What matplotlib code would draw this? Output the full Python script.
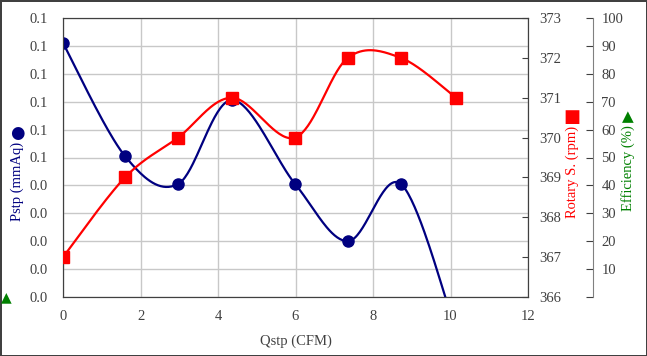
import numpy as np
import matplotlib.pyplot as plt

plt.rcParams['font.family'] = ['Liberation Serif', 'DejaVu Sans']
plt.rcParams['font.size'] = 10.5

# data
qstp = [0, 1.6, 2.97, 4.36, 5.99, 7.35, 8.72, 10.14]
pstp = [0.091, 0.0505, 0.0405, 0.0706, 0.0405, 0.020, 0.0405, -0.012]
rpm = [367.0, 369.0, 370.0, 371.0, 370.0, 372.0, 372.0, 371.0]

x_ticks = [0, 2, 4, 6, 8, 10, 12]
pstp_ticks = np.linspace(0, 0.1, 11)
pstp_ticklabels = ['0.0'] * 5 + ['0.1'] * 6
rpm_ticks = [366, 367, 368, 369, 370, 371, 372, 373]
eff_ticks = [0, 10, 20, 30, 40, 50, 60, 70, 80, 90, 100]
eff_ticklabels = [''] + [str(v) for v in eff_ticks[1:]]

BLUE = '#000080'
RED = '#FF0000'
GREEN = '#008000'
GREY = '#404040'


def smooth(x, y, n=40):
    # Catmull-Rom curve like Excel's smoothed line
    p = np.column_stack([x, y]).astype(float)
    p = np.vstack([p[0], p, p[-1]])
    out = []
    t = np.linspace(0, 1, n)[:, None]
    for i in range(1, len(p) - 2):
        p0, p1, p2, p3 = p[i - 1], p[i], p[i + 1], p[i + 2]
        seg = 0.5 * (2 * p1 + (-p0 + p2) * t + (2 * p0 - 5 * p1 + 4 * p2 - p3) * t ** 2
                     + (-p0 + 3 * p1 - 3 * p2 + p3) * t ** 3)
        out.append(seg)
    out = np.vstack(out)
    return out[:, 0], out[:, 1]


fig = plt.figure(figsize=(6.47, 3.56), dpi=100, edgecolor=GREY, linewidth=2)
ax = fig.add_axes([63 / 647, 1 - 297 / 356, 465 / 647, 279 / 356])

sx, sy = smooth(qstp, pstp)
ax.plot(sx, sy, color=BLUE, lw=1.6, zorder=3)
ax.plot(qstp, pstp, 'o', color=BLUE, ms=8, zorder=4)
ax.set_xlim(0, 12)
ax.set_ylim(0, 0.1)
ax.set_xticks(x_ticks)
ax.set_yticks(pstp_ticks)
ax.set_yticklabels(pstp_ticklabels)
ax.grid(True, color='#c8c8c8', lw=1)
ax.set_axisbelow(True)
ax.tick_params(axis='y', length=0, colors=GREY, pad=11)
ax.tick_params(axis='x', length=0, colors=GREY, pad=9)
for s in ax.spines.values():
    s.set_color(GREY)
ax.set_xlabel('Qstp (CFM)', color=GREY, labelpad=9)

ax2 = ax.twinx()
rx, ry = smooth(qstp, rpm)
ax2.plot(rx, ry, color=RED, lw=1.6, zorder=3)
ax2.plot(qstp, rpm, 's', color=RED, ms=8.5, zorder=4)
ax2.set_ylim(366, 373)
ax2.set_yticks(rpm_ticks)
ax2.tick_params(direction='in', length=4, colors=GREY, pad=8)
for s in ax2.spines.values():
    s.set_color(GREY)

ax3 = ax.twinx()
ax3.spines['right'].set_position(('axes', 530 / 465))
ax3.spines['right'].set_color('#808080')
for k in ['top', 'bottom', 'left']:
    ax3.spines[k].set_visible(False)
ax3.set_ylim(0, 100)
ax3.set_yticks(eff_ticks)
ax3.set_yticklabels(eff_ticklabels)
ax3.tick_params(direction='in', length=5, colors=GREY, pad=6)

# axis titles with series symbols
fig.text(17 / 647, 1 - 181 / 356, 'Pstp (mmAq)', color=BLUE, rotation=90, ha='center', va='center')
fig.text(17 / 647, 1 - 133 / 356, '●', color=BLUE, fontsize=12, ha='center', va='center',
         family='DejaVu Sans')
fig.text(572 / 647, 1 - 172 / 356, 'Rotary S. (rpm)', color=RED, rotation=90, ha='center', va='center')
fig.text(572 / 647, 1 - 117 / 356, '■', color=RED, fontsize=13, ha='center', va='center',
         family='DejaVu Sans')
fig.text(628 / 647, 1 - 168 / 356, 'Efficiency (%)', color=GREEN, rotation=90, ha='center', va='center')
fig.text(628 / 647, 1 - 117 / 356, '▲', color=GREEN, fontsize=11, ha='center', va='center',
         family='DejaVu Sans')
fig.text(6 / 647, 1 - 297 / 356, '▲', color=GREEN, fontsize=10, ha='center', va='center',
         family='DejaVu Sans')

fig.savefig('out.png', dpi=100, edgecolor=fig.get_edgecolor())
